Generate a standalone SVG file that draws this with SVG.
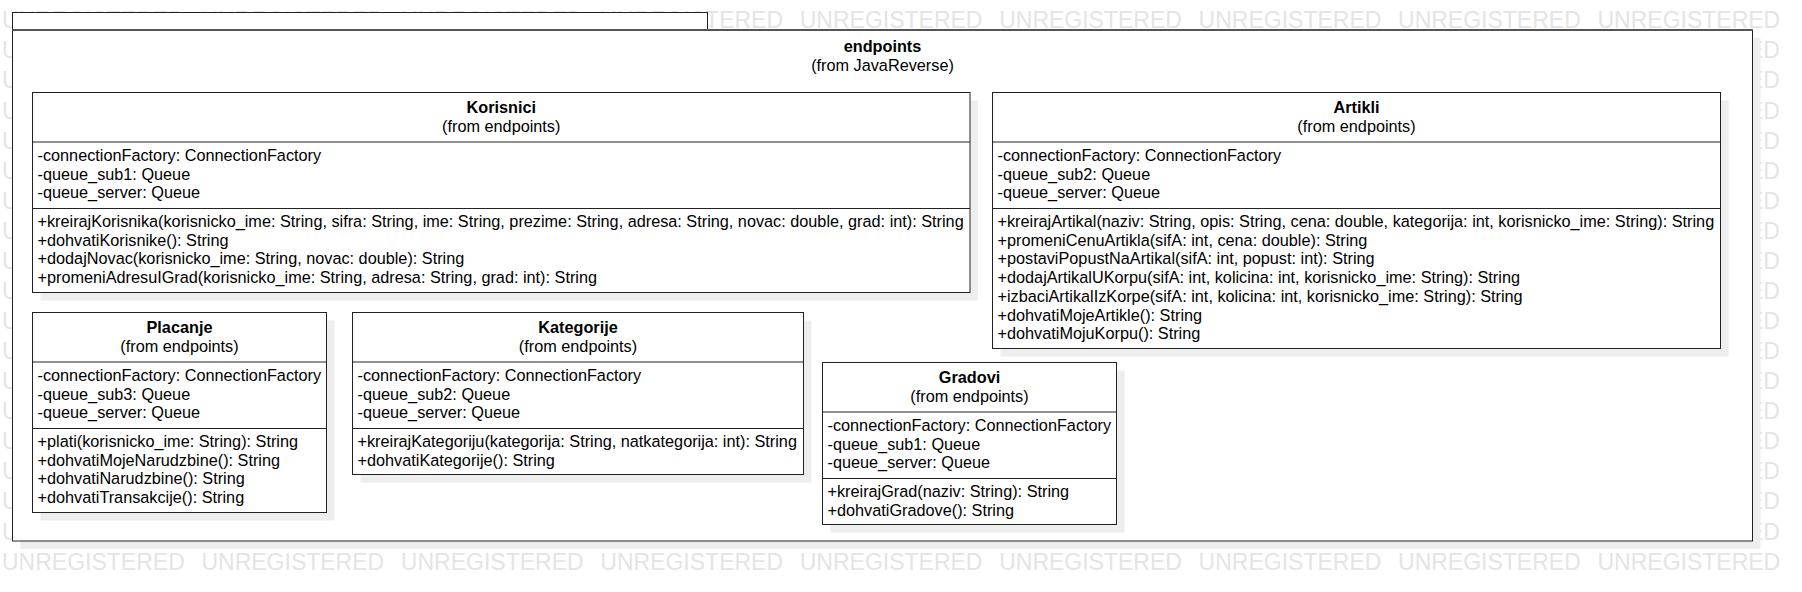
<svg xmlns="http://www.w3.org/2000/svg" width="1802" height="592" viewBox="0 0 1802 592">
<style>
.wm{font-family:"Liberation Sans",Arial,sans-serif;font-size:23px;fill:#e4e4e4;word-spacing:10.3px}
.box{fill:#fff;stroke:#222;stroke-width:1}
.sh{fill:#eeeeee}
.sep{stroke:#222;stroke-width:1}
.t{font-family:"Liberation Sans",Arial,sans-serif;font-size:16.25px;fill:#000}
.b{font-weight:bold;text-anchor:middle}
.c{text-anchor:middle}
</style>
<defs>
<clipPath id="wmclip"><path clip-rule="evenodd" d="M0,0H1802V592H0Z M12.5,12.5H708V30H1753V541.5H12.5Z"/></clipPath>
</defs>
<rect width="1802" height="592" fill="#fff"/>
<g id="watermark" clip-path="url(#wmclip)">
<text class="wm" x="2" y="28.3">UNREGISTERED UNREGISTERED UNREGISTERED UNREGISTERED UNREGISTERED UNREGISTERED UNREGISTERED UNREGISTERED UNREGISTERED</text>
<text class="wm" x="2" y="569.6">UNREGISTERED UNREGISTERED UNREGISTERED UNREGISTERED UNREGISTERED UNREGISTERED UNREGISTERED UNREGISTERED UNREGISTERED</text>
<text class="wm" x="2" y="58.4">U</text><text class="wm" x="1748" y="58.4">ED</text>
<text class="wm" x="2" y="88.4">U</text><text class="wm" x="1748" y="88.4">ED</text>
<text class="wm" x="2" y="118.5">U</text><text class="wm" x="1748" y="118.5">ED</text>
<text class="wm" x="2" y="148.6">U</text><text class="wm" x="1748" y="148.6">ED</text>
<text class="wm" x="2" y="178.7">U</text><text class="wm" x="1748" y="178.7">ED</text>
<text class="wm" x="2" y="208.7">U</text><text class="wm" x="1748" y="208.7">ED</text>
<text class="wm" x="2" y="238.8">U</text><text class="wm" x="1748" y="238.8">ED</text>
<text class="wm" x="2" y="268.9">U</text><text class="wm" x="1748" y="268.9">ED</text>
<text class="wm" x="2" y="298.9">U</text><text class="wm" x="1748" y="298.9">ED</text>
<text class="wm" x="2" y="329">U</text><text class="wm" x="1748" y="329">ED</text>
<text class="wm" x="2" y="359.1">U</text><text class="wm" x="1748" y="359.1">ED</text>
<text class="wm" x="2" y="389.1">U</text><text class="wm" x="1748" y="389.1">ED</text>
<text class="wm" x="2" y="419.2">U</text><text class="wm" x="1748" y="419.2">ED</text>
<text class="wm" x="2" y="449.3">U</text><text class="wm" x="1748" y="449.3">ED</text>
<text class="wm" x="2" y="479.4">U</text><text class="wm" x="1748" y="479.4">ED</text>
<text class="wm" x="2" y="509.4">U</text><text class="wm" x="1748" y="509.4">ED</text>
<text class="wm" x="2" y="539.5">U</text><text class="wm" x="1748" y="539.5">ED</text>
</g>

<g id="pkg-endpoints">
<rect class="sh" x="20.5" y="38" width="1740" height="511"/>
<rect class="box" x="12.5" y="12.5" width="695" height="17.5"/>
<rect class="box" x="12.5" y="30" width="1740" height="511"/>
<line x1="12.5" y1="30" x2="1752.5" y2="30" stroke="#555" stroke-width="2"/>
<text class="t b" x="882.5" y="52">endpoints</text>
<text class="t c" x="882.5" y="70.5">(from JavaReverse)</text>
</g>

<g id="class-Korisnici">
<rect class="sh" x="40.5" y="100.5" width="937.5" height="200"/>
<rect class="box" x="32.5" y="92.5" width="937.5" height="200"/>
<line class="sep" x1="32.5" y1="142" x2="970" y2="142"/>
<line class="sep" x1="32.5" y1="208.5" x2="970" y2="208.5"/>
<text class="t b" x="501.25" y="113">Korisnici</text>
<text class="t c" x="501.25" y="132">(from endpoints)</text>
<text class="t" x="37.5" y="161">-connectionFactory: ConnectionFactory</text>
<text class="t" x="37.5" y="179.7">-queue_sub1: Queue</text>
<text class="t" x="37.5" y="198.4">-queue_server: Queue</text>
<text class="t" x="37.5" y="227">+kreirajKorisnika(korisnicko_ime: String, sifra: String, ime: String, prezime: String, adresa: String, novac: double, grad: int): String</text>
<text class="t" x="37.5" y="245.7">+dohvatiKorisnike(): String</text>
<text class="t" x="37.5" y="264.4">+dodajNovac(korisnicko_ime: String, novac: double): String</text>
<text class="t" x="37.5" y="283.1">+promeniAdresuIGrad(korisnicko_ime: String, adresa: String, grad: int): String</text>
</g>

<g id="class-Artikli">
<rect class="sh" x="1000.5" y="100.5" width="728" height="256"/>
<rect class="box" x="992.5" y="92.5" width="728" height="256"/>
<line class="sep" x1="992.5" y1="142" x2="1720.5" y2="142"/>
<line class="sep" x1="992.5" y1="208.5" x2="1720.5" y2="208.5"/>
<text class="t b" x="1356.5" y="113">Artikli</text>
<text class="t c" x="1356.5" y="132">(from endpoints)</text>
<text class="t" x="997.5" y="161">-connectionFactory: ConnectionFactory</text>
<text class="t" x="997.5" y="179.7">-queue_sub2: Queue</text>
<text class="t" x="997.5" y="198.4">-queue_server: Queue</text>
<text class="t" x="997.5" y="227">+kreirajArtikal(naziv: String, opis: String, cena: double, kategorija: int, korisnicko_ime: String): String</text>
<text class="t" x="997.5" y="245.7">+promeniCenuArtikla(sifA: int, cena: double): String</text>
<text class="t" x="997.5" y="264.4">+postaviPopustNaArtikal(sifA: int, popust: int): String</text>
<text class="t" x="997.5" y="283.1">+dodajArtikalUKorpu(sifA: int, kolicina: int, korisnicko_ime: String): String</text>
<text class="t" x="997.5" y="301.8">+izbaciArtikalIzKorpe(sifA: int, kolicina: int, korisnicko_ime: String): String</text>
<text class="t" x="997.5" y="320.5">+dohvatiMojeArtikle(): String</text>
<text class="t" x="997.5" y="339.2">+dohvatiMojuKorpu(): String</text>
</g>

<g id="class-Placanje">
<rect class="sh" x="40.5" y="320.5" width="294" height="200"/>
<rect class="box" x="32.5" y="312.5" width="294" height="200"/>
<line class="sep" x1="32.5" y1="362" x2="326.5" y2="362"/>
<line class="sep" x1="32.5" y1="428.5" x2="326.5" y2="428.5"/>
<text class="t b" x="179.5" y="333">Placanje</text>
<text class="t c" x="179.5" y="352">(from endpoints)</text>
<text class="t" x="37.5" y="381">-connectionFactory: ConnectionFactory</text>
<text class="t" x="37.5" y="399.7">-queue_sub3: Queue</text>
<text class="t" x="37.5" y="418.4">-queue_server: Queue</text>
<text class="t" x="37.5" y="447">+plati(korisnicko_ime: String): String</text>
<text class="t" x="37.5" y="465.7">+dohvatiMojeNarudzbine(): String</text>
<text class="t" x="37.5" y="484.4">+dohvatiNarudzbine(): String</text>
<text class="t" x="37.5" y="503.1">+dohvatiTransakcije(): String</text>
</g>

<g id="class-Kategorije">
<rect class="sh" x="360.5" y="320.5" width="451" height="162"/>
<rect class="box" x="352.5" y="312.5" width="451" height="162"/>
<line class="sep" x1="352.5" y1="362" x2="803.5" y2="362"/>
<line class="sep" x1="352.5" y1="428.5" x2="803.5" y2="428.5"/>
<text class="t b" x="578" y="333">Kategorije</text>
<text class="t c" x="578" y="352">(from endpoints)</text>
<text class="t" x="357.5" y="381">-connectionFactory: ConnectionFactory</text>
<text class="t" x="357.5" y="399.7">-queue_sub2: Queue</text>
<text class="t" x="357.5" y="418.4">-queue_server: Queue</text>
<text class="t" x="357.5" y="447">+kreirajKategoriju(kategorija: String, natkategorija: int): String</text>
<text class="t" x="357.5" y="465.7">+dohvatiKategorije(): String</text>
</g>

<g id="class-Gradovi">
<rect class="sh" x="830.5" y="370.5" width="294" height="162"/>
<rect class="box" x="822.5" y="362.5" width="294" height="162"/>
<line class="sep" x1="822.5" y1="412" x2="1116.5" y2="412"/>
<line class="sep" x1="822.5" y1="478.5" x2="1116.5" y2="478.5"/>
<text class="t b" x="969.5" y="383">Gradovi</text>
<text class="t c" x="969.5" y="402">(from endpoints)</text>
<text class="t" x="827.5" y="431">-connectionFactory: ConnectionFactory</text>
<text class="t" x="827.5" y="449.7">-queue_sub1: Queue</text>
<text class="t" x="827.5" y="468.4">-queue_server: Queue</text>
<text class="t" x="827.5" y="497">+kreirajGrad(naziv: String): String</text>
<text class="t" x="827.5" y="515.7">+dohvatiGradove(): String</text>
</g>

<g id="connectors"></g>
</svg>
